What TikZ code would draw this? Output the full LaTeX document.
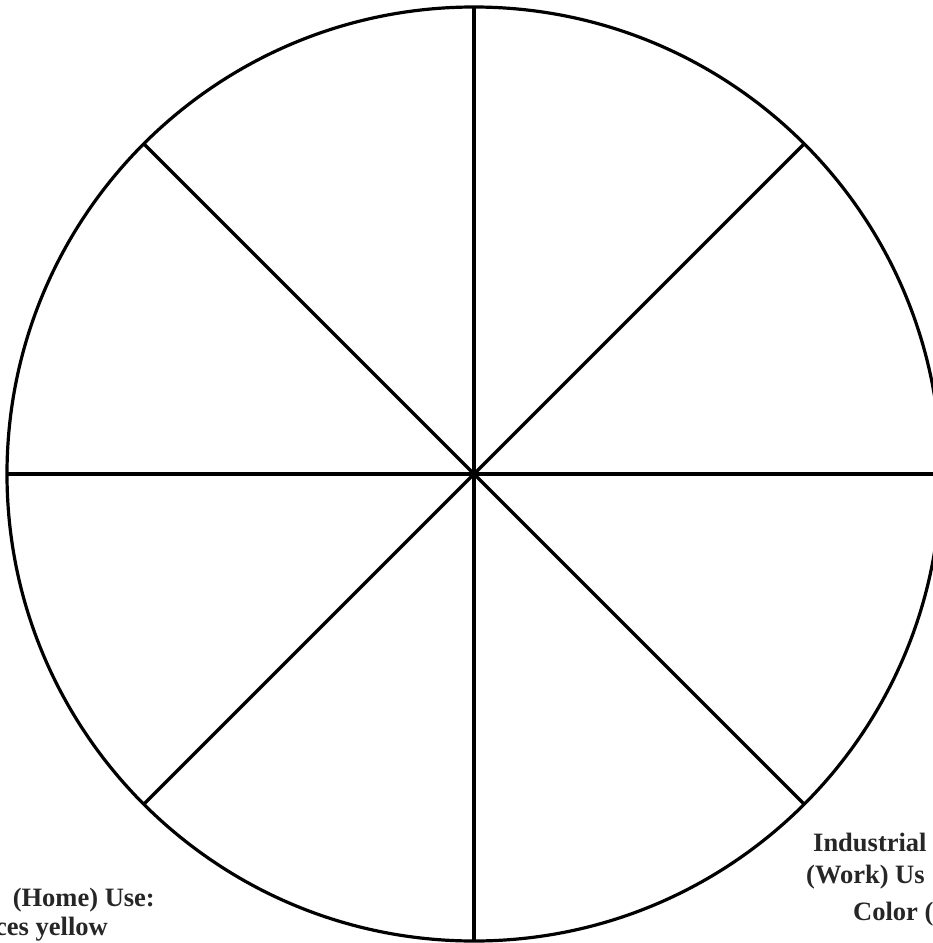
\documentclass[tikz,border=0pt]{standalone}
\usepackage{fontspec}
\setmainfont{Liberation Serif}
\usetikzlibrary{calc}
\begin{document}
\begin{tikzpicture}[x=1pt,y=-1pt,
  wheel/.style={line width=3.2pt,black},
  lbl/.style={font=\bfseries\fontsize{26.5}{32}\selectfont,text=black!85,inner sep=0pt}]
\useasboundingbox (0,0) rectangle (933,943);
\coordinate (c) at (474,474);
\draw[wheel] (c) circle[radius=467];
\foreach \a in {0,45,...,315}{
  \coordinate (p\a) at ($(c)+(\a:467)$);
}
\foreach \a in {0,45,...,315}{
  \draw[wheel] (c) -- (p\a);
}
\node[lbl,anchor=base west] (i1) at (813,851) {Industrial};
\node[lbl,anchor=base west] (i2) at (806,883) {(Work) Us};
\node[lbl,anchor=base west] (i3) at (853,920) {Color (};
\node[lbl,anchor=base east] (h1) at (155,906) {(Home) Use:};
\node[lbl,anchor=base east] (h2) at (108,935) {ces yellow};
\end{tikzpicture}
\end{document}
